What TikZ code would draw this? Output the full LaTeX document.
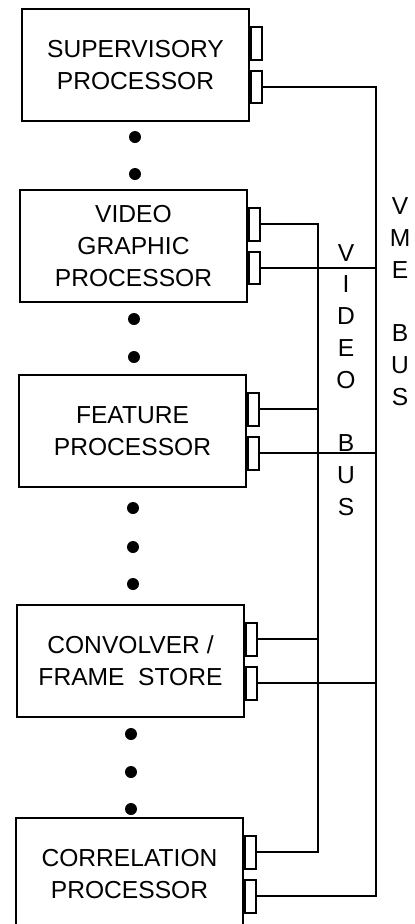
\documentclass[tikz,border=0pt]{standalone}
\usepackage{fontspec}
\setmainfont{Liberation Sans}
\usetikzlibrary{positioning}

\begin{document}
\begin{tikzpicture}[
      x=0.02cm, y=-0.02cm,
      line width=0.04cm,
      unit/.style={draw, align=center, minimum width=4.54cm, minimum height=2.24cm, inner sep=0pt, font=\fontsize{14}{18.1}\selectfont},
      port/.style={draw, fill=white, minimum width=0.22cm, minimum height=0.66cm, inner sep=0pt, anchor=west},
      buslabel/.style={align=center, inner sep=0pt, font=\fontsize{14}{18.1}\selectfont}
    ]
      \useasboundingbox (0,0) rectangle (414,924);
      \node[unit] (sup) at (135.5,65) {SUPERVISORY\\PROCESSOR};
      \node[unit] (vgp) at (133.5,246) {VIDEO\\GRAPHIC\\PROCESSOR};
      \node[unit] (feat) at (132.5,431) {FEATURE\\PROCESSOR};
      \node[unit] (conv) at (130.5,661) {CONVOLVER /\\FRAME\ \ STORE};
      \node[unit] (corr) at (129.5,874) {CORRELATION\\PROCESSOR};
      \foreach \u in {sup,vgp,feat,conv,corr} {
        \node[port] (\u-v) at ([yshift=0.44cm]\u.east) {};
        \node[port] (\u-m) at ([yshift=-0.44cm]\u.east) {};
      }
      \coordinate (vbus) at (318,0);
      \coordinate (mbus) at (376,0);
      % video bus
      \draw (vgp-v.east) -| (corr-v.east -| vbus) -- (corr-v.east);
      \draw (feat-v.east) -- (feat-v.east -| vbus);
      \draw (conv-v.east) -- (conv-v.east -| vbus);
      % vme bus
      \draw (sup-m.east) -| (corr-m.east -| mbus) -- (corr-m.east);
      \foreach \u in {vgp,feat,conv}
        \draw (\u-m.east) -- (\u-m.east -| mbus);
      \node[buslabel] (vmelbl) at (400,301.5) {V\\M\\E\\[18.1pt]B\\U\\S};
      \node[buslabel] (vidlbl) at (346,380) {V\\I\\D\\E\\O\\[18.1pt]B\\U\\S};
      % dots between the units
      \foreach \y in {137,174} \fill (135,\y) circle (0.12cm);
      \foreach \y in {319,357} \fill (134,\y) circle (0.12cm);
      \foreach \y in {508,547,584} \fill (133,\y) circle (0.12cm);
      \foreach \y in {734,772,809} \fill (131,\y) circle (0.12cm);
    \end{tikzpicture}
\end{document}
